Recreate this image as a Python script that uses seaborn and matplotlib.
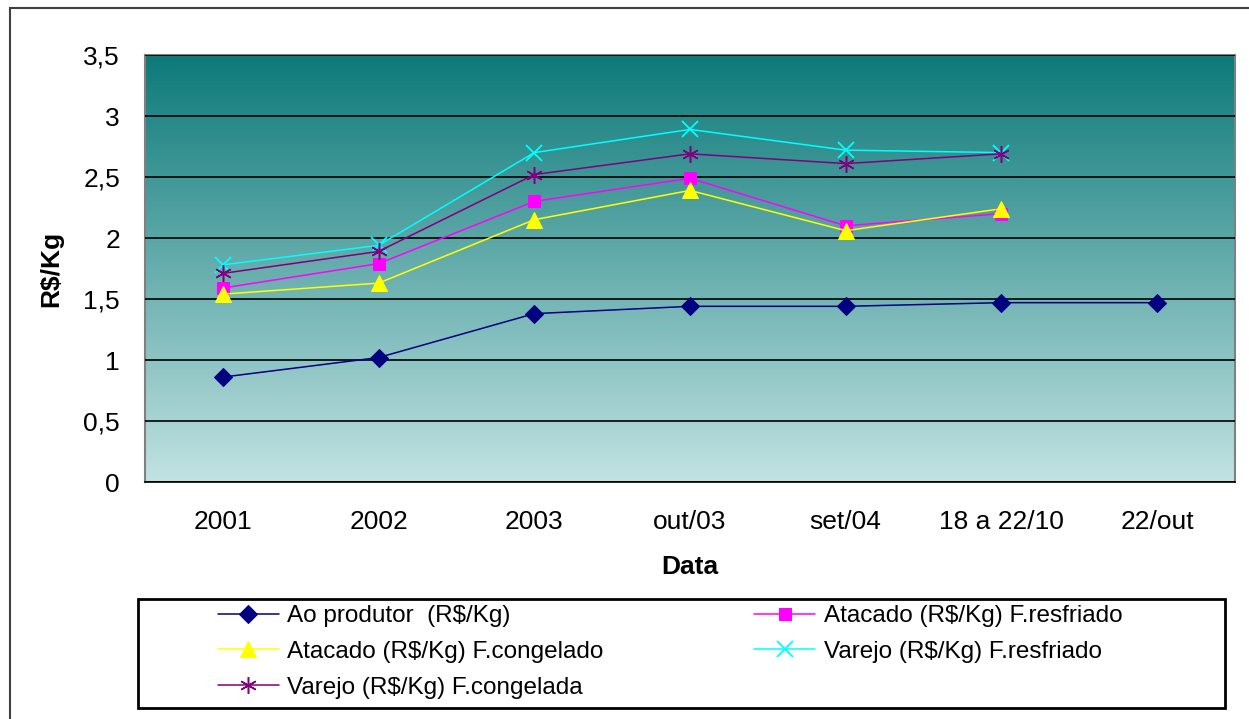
import numpy as np
import pandas as pd
import matplotlib
matplotlib.use("Agg")
import matplotlib.pyplot as plt
from matplotlib.colors import LinearSegmentedColormap
from matplotlib.patches import Rectangle
import seaborn as sns

# Categories on the x axis
categories = ["2001", "2002", "2003", "out/03", "set/04", "18 a 22/10", "22/out"]

# Price series (R$/Kg)
ao_produtor = [0.86, 1.02, 1.38, 1.44, 1.44, 1.47, 1.47]
atacado_resfriado = [1.59, 1.79, 2.30, 2.49, 2.10, 2.20]
atacado_congelado = [1.54, 1.63, 2.15, 2.39, 2.06, 2.24]
varejo_resfriado = [1.78, 1.94, 2.70, 2.89, 2.72, 2.70]
varejo_congelada = [1.71, 1.89, 2.52, 2.69, 2.61, 2.69]

series_names = [
    "Ao produtor  (R$/Kg)",
    "Atacado (R$/Kg) F.resfriado",
    "Atacado (R$/Kg) F.congelado",
    "Varejo (R$/Kg) F.resfriado",
    "Varejo (R$/Kg) F.congelada",
]

y_ticks = [0, 0.5, 1, 1.5, 2, 2.5, 3, 3.5]
y_tick_labels = ["0", "0,5", "1", "1,5", "2", "2,5", "3", "3,5"]

sns.set_style("white")
plt.rcParams["font.family"] = ["Liberation Sans", "DejaVu Sans"]
plt.rcParams["text.parse_math"] = False
plt.rcParams["text.color"] = "black"
plt.rcParams["axes.labelcolor"] = "black"
plt.rcParams["xtick.color"] = "black"
plt.rcParams["ytick.color"] = "black"

W, H = 1249, 719
fig = plt.figure(figsize=(W / 100, H / 100), dpi=100)
ax = fig.add_axes([145 / W, 1 - 482 / H, 1090 / W, 427 / H])

# Gradient background of the plot area
grad_cmap = LinearSegmentedColormap.from_list("teal", ["#c2e2e2", "#0c7a79"])
ax.imshow(np.linspace(0, 1, 256).reshape(-1, 1), cmap=grad_cmap, aspect="auto",
          extent=[0, 1, 0, 1], origin="lower", transform=ax.transAxes, zorder=0)

# Build a long table and draw each series with seaborn
all_series = [ao_produtor, atacado_resfriado, atacado_congelado, varejo_resfriado, varejo_congelada]
frames = []
for name, vals in zip(series_names, all_series):
    frames.append(pd.DataFrame({"pos": np.arange(len(vals)), "valor": vals, "serie": name}))
df = pd.concat(frames, ignore_index=True)

styles = {
    series_names[0]: dict(color="#000080", marker="D", markersize=9, mec="#000080"),
    series_names[1]: dict(color="#ff00ff", marker="s", markersize=9, mec="#ff00ff"),
    series_names[2]: dict(color="#ffff00", marker="^", markersize=11, mec="#ffff00"),
    series_names[3]: dict(color="#00ffff", marker="x", markersize=12, mew=1.3, mec="#00ffff"),
    series_names[4]: dict(color="#800080", marker=(6, 2, 0), markersize=12, mew=1.1, mec="#800080"),
}

for name in series_names:
    sub = df[df["serie"] == name]
    sns.lineplot(data=sub, x="pos", y="valor", ax=ax, label=name, lw=1.1,
                 zorder=3, **styles[name])

ax.set_xlim(-0.5, len(categories) - 0.5)
ax.set_ylim(0, 3.5)

# Gridlines
ax.set_yticks(y_ticks)
ax.set_yticklabels(y_tick_labels)
ax.yaxis.grid(True, color="black", lw=1.2, zorder=1)
ax.set_axisbelow(False)
for gl in ax.get_ygridlines():
    gl.set_zorder(1)

# x ticks: labels at centres, tick marks at boundaries
ax.set_xticks(np.arange(len(categories)))
ax.set_xticklabels(categories)
ax.set_xticks(np.arange(-0.5, len(categories)), minor=True)
ax.tick_params(axis="x", which="major", length=0, pad=20, labelsize=19)
ax.tick_params(axis="x", which="minor", length=6, width=1, color="black", direction="out")
ax.tick_params(axis="y", which="major", length=6, width=1, color="black", direction="out",
               pad=12, labelsize=19)
ax.xaxis.grid(False)

for side in ["left", "top", "right"]:
    ax.spines[side].set_color("#808080")
    ax.spines[side].set_linewidth(1.5)
ax.spines["bottom"].set_color("black")
ax.spines["bottom"].set_linewidth(1.2)

ax.set_xlabel("Data", fontsize=19, fontweight="bold")
ax.set_ylabel("R$/Kg", fontsize=19, fontweight="bold")
ax.xaxis.set_label_coords(0.5, -0.17)
ax.yaxis.set_label_coords(-0.075, 0.5)

# Legend in Excel order (row-wise), box drawn separately
handles, labels = ax.get_legend_handles_labels()
order = [0, 2, 4, 1, 3]
leg = ax.legend([handles[i] for i in order], [labels[i] for i in order],
                ncol=2, frameon=False, fontsize=17.5, loc="upper left",
                bbox_to_anchor=(218 / W, 1 - 605 / H), bbox_transform=fig.transFigure,
                borderpad=0, borderaxespad=0, handlelength=2.5, handletextpad=0.35,
                columnspacing=6.2, labelspacing=0.57)

fig.patches.append(Rectangle((138 / W, 1 - 708 / H), (1225 - 138) / W, (708 - 599) / H,
                             transform=fig.transFigure, fill=False, edgecolor="black", lw=2))
# Outer chart border
fig.patches.append(Rectangle((10 / W, -0.05), 1.1, 1 - 8 / H + 0.05,
                             transform=fig.transFigure, fill=False, edgecolor="#404040", lw=1.5))

fig.savefig("out.png", dpi=100)
